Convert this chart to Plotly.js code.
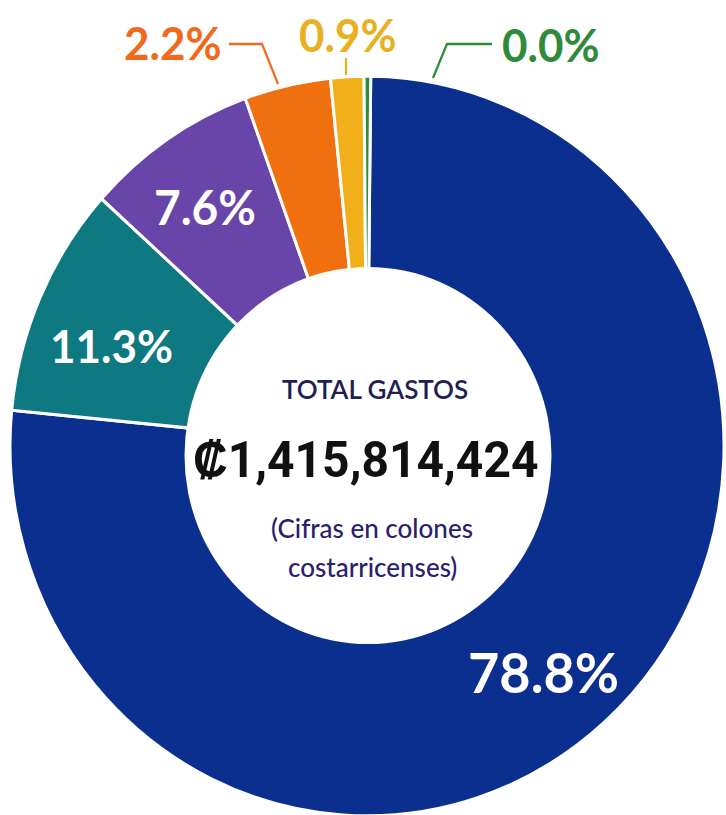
<!DOCTYPE html>
<html>
<head>
<meta charset="utf-8">
<script src="https://cdn.plot.ly/plotly-3.0.1.min.js"></script>
<style>
  html, body { margin: 0; padding: 0; width: 726px; height: 815px; overflow: hidden; background: #ffffff; }
  #plot { position: absolute; left: -133px; top: -54px; width: 1000px; height: 1000px;
          transform: scaleY(1.036); transform-origin: 500px 500px; }
</style>
</head>
<body>
<div id="plot"></div>
<script>
// ---- data ----
const categories = ['Rubro 1', 'Rubro 2', 'Rubro 3', 'Rubro 4', 'Rubro 5', 'Rubro 6'];
const sliceValues = [76.3, 10.1, 7.8, 3.9, 1.5, 0.3];          // drawn shares (slice sizes)
const percentLabels = ['78.8%', '11.3%', '7.6%', '2.2%', '0.9%', '0.0%']; // printed labels
const sliceColors = ['#0B2F8E', '#0F7981', '#6A45A9', '#F0700F', '#F1B019', '#2E8D3C'];
const centerTitle = 'TOTAL GASTOS';
const centerTotal = '₡1,415,814,424';
const centerNote = ['(Cifras en colones', 'costarricenses)'];

// ---- page-pixel -> paper helpers (div is 1000x1000, offset and stretched) ----
const S = 1.036, OX = -133, OY = -54;
const px = x => (x - OX) / 1000;
const py = y => 1 - (500 + (y - 446) / S) / 1000;

const LATO = 'Lato, "Open Sans", sans-serif';

const trace = {
  type: 'pie',
  labels: categories,
  values: sliceValues,
  text: percentLabels,
  sort: false,
  direction: 'clockwise',
  rotation: 0.6,
  hole: 0.45,
  textinfo: 'none',
  hoverinfo: 'none',
  marker: { colors: sliceColors, line: { color: '#ffffff', width: 3 } },
  domain: { x: [0.143, 0.857], y: [0.143, 0.857] },
  showlegend: false
};

const ann = (text, x, y, size, color, weight, family) => ({
  text: text, x: px(x), y: py(y), xref: 'paper', yref: 'paper',
  xanchor: 'center', yanchor: 'middle', showarrow: false,
  font: { family: family || LATO, size: size, color: color, weight: weight }
});

const annotations = [
  ann(percentLabels[0], 543, 671, 54, '#ffffff', 700),
  ann(percentLabels[1], 111, 345, 44, '#ffffff', 700),
  ann(percentLabels[2], 205, 207, 46, '#ffffff', 700),
  ann(percentLabels[3], 173, 42, 44, '#F06A1C', 700),
  ann(percentLabels[4], 348, 35, 44, '#EAB023', 700),
  ann(percentLabels[5], 551, 44, 44, '#2E8B3A', 700),
  ann(centerTitle, 375, 389, 26, '#1D2152', 600),
  ann(centerTotal, 366, 460, 48, '#111111', 700, 'Roboto, sans-serif'),
  ann(centerNote[0], 372, 528, 26, '#2B2070', 500),
  ann(centerNote[1], 372, 566, 26, '#2B2070', 500)
];

const line = (pts, color) => ({
  type: 'path', xref: 'paper', yref: 'paper', layer: 'above',
  path: pts.map((p, i) => (i ? 'L' : 'M') + px(p[0]) + ',' + py(p[1])).join(' '),
  line: { color: color, width: 2.2 }
});

const shapes = [
  { type: 'circle', xref: 'paper', yref: 'paper', layer: 'above',
    x0: px(184.5), x1: px(551.5), y0: py(644), y1: py(267),
    fillcolor: '#ffffff', line: { width: 0 } },
  line([[229, 44], [262, 44], [278, 84]], '#F06A1C'),
  line([[346, 58], [346, 75]], '#EAB023'),
  line([[433, 78], [447, 44], [492, 44]], '#2E8B3A')
];

const layout = {
  width: 1000, height: 1000,
  margin: { l: 0, r: 0, t: 0, b: 0 },
  paper_bgcolor: 'rgba(0,0,0,0)', plot_bgcolor: 'rgba(0,0,0,0)',
  annotations: annotations, shapes: shapes, showlegend: false
};

Plotly.newPlot('plot', [trace], layout, { staticPlot: true, displayModeBar: false });
</script>
</body>
</html>
